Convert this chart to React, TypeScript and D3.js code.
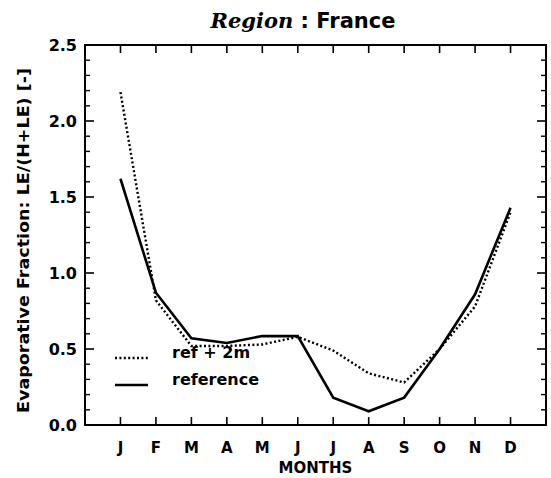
import * as d3 from 'd3';

const months = ['J', 'F', 'M', 'A', 'M', 'J', 'J', 'A', 'S', 'O', 'N', 'D'];
const refPlus2m = [2.19, 0.82, 0.52, 0.52, 0.53, 0.58, 0.49, 0.34, 0.28, 0.5, 0.78, 1.4];
const reference = [1.62, 0.87, 0.57, 0.54, 0.585, 0.585, 0.18, 0.09, 0.18, 0.5, 0.86, 1.43];
const yMajor = [0, 0.5, 1.0, 1.5, 2.0, 2.5];

const W = 551;
const H = 478;
const left = 85;
const right = 546;
const top = 45;
const bottom = 425;
const font = '"DejaVu Sans", sans-serif';

export default function App() {
  const x = d3.scaleLinear().domain([0, 13]).range([left, right]);
  const y = d3.scaleLinear().domain([0, 2.5]).range([bottom, top]);
  const minor = d3.range(0, 2.501, 0.1).filter((v) => Math.abs(v * 2 - Math.round(v * 2)) > 1e-6);

  const line = d3
    .line<number>()
    .x((_, i) => x(i + 1))
    .y((d) => y(d));

  return (
    <div style={{ position: 'absolute', left: 0, top: 0 }}>
      <svg width={W} height={H} style={{ display: 'block', background: '#fff' }}>
        {/* title */}
        <text x={303} y={28} textAnchor="middle" fontSize={21} fill="#000">
          <tspan fontFamily='"DejaVu Serif", serif' fontStyle="italic" fontWeight="bold">Region</tspan>
          <tspan fontFamily={font} fontWeight="bold"> : France</tspan>
        </text>

        {/* frame */}
        <rect x={left} y={top} width={right - left} height={bottom - top} fill="none" stroke="#000" strokeWidth={2} />

        {/* y ticks */}
        {yMajor.map((v) => (
          <g key={'ym' + v}>
            <line x1={left} x2={left + 9} y1={y(v)} y2={y(v)} stroke="#000" strokeWidth={1.6} />
            <line x1={right} x2={right - 9} y1={y(v)} y2={y(v)} stroke="#000" strokeWidth={1.6} />
            <text x={77} y={y(v) + 6} textAnchor="end" fontFamily={font} fontWeight="bold" fontSize={16}>
              {d3.format('.1f')(v)}
            </text>
          </g>
        ))}
        {minor.map((v) => (
          <g key={'yn' + v}>
            <line x1={left} x2={left + 5} y1={y(v)} y2={y(v)} stroke="#000" strokeWidth={1.4} />
            <line x1={right} x2={right - 5} y1={y(v)} y2={y(v)} stroke="#000" strokeWidth={1.4} />
          </g>
        ))}

        {/* x ticks */}
        {months.map((m, i) => (
          <g key={'x' + i}>
            <line x1={x(i + 1)} x2={x(i + 1)} y1={bottom} y2={bottom - 8} stroke="#000" strokeWidth={1.6} />
            <line x1={x(i + 1)} x2={x(i + 1)} y1={top} y2={top + 8} stroke="#000" strokeWidth={1.6} />
            <text x={x(i + 1)} y={453} textAnchor="middle" fontFamily={font} fontWeight="bold" fontSize={15}>
              {m}
            </text>
          </g>
        ))}
        <text x={(left + right) / 2} y={473} textAnchor="middle" fontFamily={font} fontWeight="bold" fontSize={15}>
          MONTHS
        </text>

        {/* y label */}
        <text
          transform={`translate(29,${(68 + 413) / 2}) rotate(-90)`}
          textAnchor="middle"
          fontFamily={font}
          fontWeight="bold"
          fontSize={15}
          textLength={345}
          lengthAdjust="spacingAndGlyphs"
        >
          Evaporative Fraction: LE/(H+LE) [-]
        </text>

        {/* series */}
        <path d={line(refPlus2m) ?? ''} fill="none" stroke="#000" strokeWidth={2.4} strokeDasharray="2,2.4" />
        <path d={line(reference) ?? ''} fill="none" stroke="#000" strokeWidth={2.6} strokeLinejoin="miter" />

        {/* legend */}
        <line x1={115} x2={148} y1={358} y2={358} stroke="#000" strokeWidth={2.4} strokeDasharray="2,2.4" />
        <text x={172} y={358} fontFamily={font} fontWeight="bold" fontSize={16}>ref + 2m</text>
        <line x1={115} x2={148} y1={385} y2={385} stroke="#000" strokeWidth={2.6} />
        <text x={172} y={385} fontFamily={font} fontWeight="bold" fontSize={16}>reference</text>
      </svg>
    </div>
  );
}
